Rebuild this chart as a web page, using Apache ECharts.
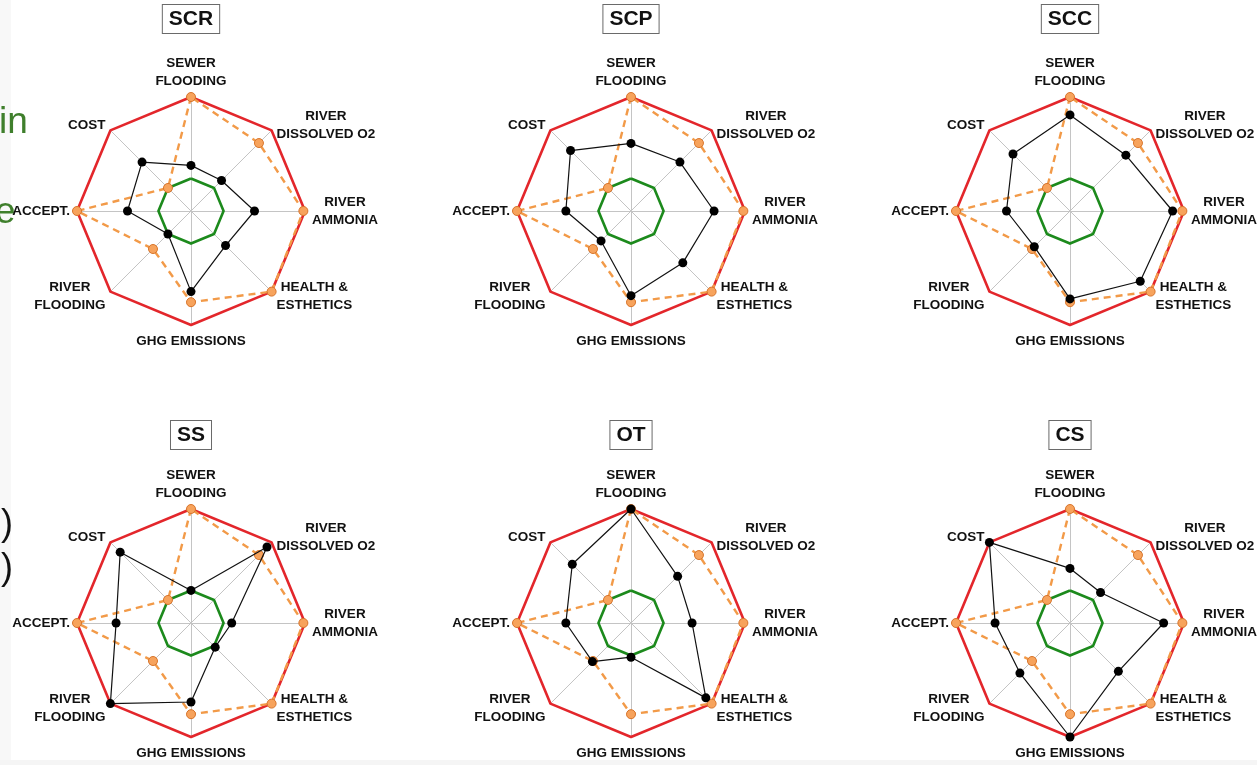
<!DOCTYPE html>
<html>
<head>
<meta charset="utf-8">
<script src="https://cdn.jsdelivr.net/npm/echarts@6/dist/echarts.min.js"></script>
<style>
  html, body { margin: 0; padding: 0; background: #ffffff; }
  #chart { width: 1257px; height: 765px; }
</style>
</head>
<body>
<div id="chart"></div>
<script>
// Criteria, listed counter-clockwise from the top axis (ECharts radar order)
const criteria = [
  'SEWER\nFLOODING',
  'COST',
  'ACCEPT.',
  'RIVER\nFLOODING',
  'GHG EMISSIONS',
  'HEALTH &\nESTHETICS',
  'RIVER\nAMMONIA',
  'RIVER\nDISSOLVED O2'
];

// Normalised scores: 0 = worst option, 1 = best option
const bestScores  = [1, 1, 1, 1, 1, 1, 1, 1];
const worstScores = [0, 0, 0, 0, 0, 0, 0, 0];
const referenceScores = [1, 0, 1, 0.26, 0.72, 1, 0.98, 0.78];

const panelNames = ['SCR', 'SCP', 'SCC', 'SS', 'OT', 'CS'];

const scoresSCR = [0.16, 0.45, 0.38, 0.00, 0.59, 0.20, 0.38, 0.13];
const scoresSCP = [0.43, 0.65, 0.40, 0.12, 0.64, 0.50, 0.62, 0.45];
const scoresSCC = [0.78, 0.59, 0.38, 0.22, 0.68, 0.82, 0.86, 0.57];
const scoresSS  = [0.00, 0.83, 0.52, 1.00, 0.57, 0.02, 0.10, 0.92];
const scoresOT  = [1.00, 0.62, 0.40, 0.27, 0.02, 0.90, 0.35, 0.41];
const scoresCS  = [0.27, 1.00, 0.52, 0.47, 1.00, 0.44, 0.75, 0.13];

const panelScores = [scoresSCR, scoresSCP, scoresSCC, scoresSS, scoresOT, scoresCS];

// Panel grid
const colX = [191, 631, 1070];
const rowY = [211, 623];
const titleTop = [5, 421];
const R = 114;

const sansFont = '"Liberation Sans", Arial, Helvetica, sans-serif';

const radars = [];
const graphics = [];
const series = [];

panelNames.forEach(function (name, i) {
  const col = i % 3, row = Math.floor(i / 3);
  radars.push({
    center: [colX[col], rowY[row]],
    radius: R,
    startAngle: 90,
    shape: 'polygon',
    splitNumber: 1,
    axisNameGap: 7,
    indicator: criteria.map(function (c) { return { name: c, min: -0.4, max: 1 }; }),
    axisName: {
      formatter: function (v) {
        return v.split('\n').map(function (s) { return '{c|' + s + '}'; }).join('\n');
      },
      rich: {
        c: {
          align: 'center',
          fontFamily: sansFont,
          fontWeight: 'bold',
          fontSize: 13.5,
          lineHeight: 18,
          color: '#111111'
        }
      }
    },
    axisLine: { show: true, lineStyle: { color: '#c4c4c4', width: 1 } },
    splitLine: { show: false },
    splitArea: { show: false },
    axisTick: { show: false },
    axisLabel: { show: false }
  });

  // Boxed panel title
  graphics.push({
    type: 'text',
    x: colX[col],
    y: titleTop[row],
    silent: true,
    style: {
      text: name,
      align: 'center',
      verticalAlign: 'top',
      fontFamily: sansFont,
      fontWeight: 'bold',
      fontSize: 21,
      lineHeight: 21,
      fill: '#111111',
      padding: [4, 6, 3, 6],
      borderColor: '#6a6a6a',
      borderWidth: 1,
      backgroundColor: '#ffffff'
    }
  });

  series.push(
    {
      type: 'radar', radarIndex: i, silent: true, z: 2,
      symbol: 'none',
      lineStyle: { color: '#e3262b', width: 2.6 },
      data: [{ value: bestScores, name: 'Best' }]
    },
    {
      type: 'radar', radarIndex: i, silent: true, z: 3,
      symbol: 'none',
      lineStyle: { color: '#1c8a1c', width: 2.6 },
      data: [{ value: worstScores, name: 'Worst' }]
    },
    {
      type: 'radar', radarIndex: i, silent: true, z: 4,
      symbol: 'circle', symbolSize: 9,
      lineStyle: { color: '#f29a48', width: 2.4, type: [7, 5] },
      itemStyle: { color: '#f7a35c', borderColor: '#d8742a', borderWidth: 1 },
      data: [{ value: referenceScores, name: 'Reference' }]
    },
    {
      type: 'radar', radarIndex: i, silent: true, z: 5,
      symbol: 'circle', symbolSize: 9,
      lineStyle: { color: '#111111', width: 1.2 },
      itemStyle: { color: '#000000', borderWidth: 0 },
      data: [{ value: panelScores[i], name: name }]
    }
  );
});

// Edge of the neighbouring slide text
graphics.push(
  { type: 'rect', left: 0, top: 0, z: -1, silent: true, shape: { width: 11, height: 765 }, style: { fill: '#f8f8f8' } },
  { type: 'rect', left: 0, top: 760, z: -1, silent: true, shape: { width: 1257, height: 5 }, style: { fill: '#f5f5f5' } },
  { type: 'text', x: -1, y: 104, silent: true, style: { text: 'in', fontSize: 37, fontFamily: sansFont, fill: '#3f7f2c' } },
  { type: 'text', x: -5, y: 194, silent: true, style: { text: 'e', fontSize: 37, fontFamily: sansFont, fill: '#3f7f2c' } },
  { type: 'text', x: 1, y: 507, silent: true, style: { text: ')', fontSize: 36, fontFamily: sansFont, fill: '#111111' } },
  { type: 'text', x: 1, y: 551, silent: true, style: { text: ')', fontSize: 36, fontFamily: sansFont, fill: '#111111' } }
);

const chart = echarts.init(document.getElementById('chart'), null, { renderer: 'canvas' });
chart.setOption({
  backgroundColor: '#ffffff',
  animation: false,
  radar: radars,
  series: series,
  graphic: graphics
});
</script>
</body>
</html>
